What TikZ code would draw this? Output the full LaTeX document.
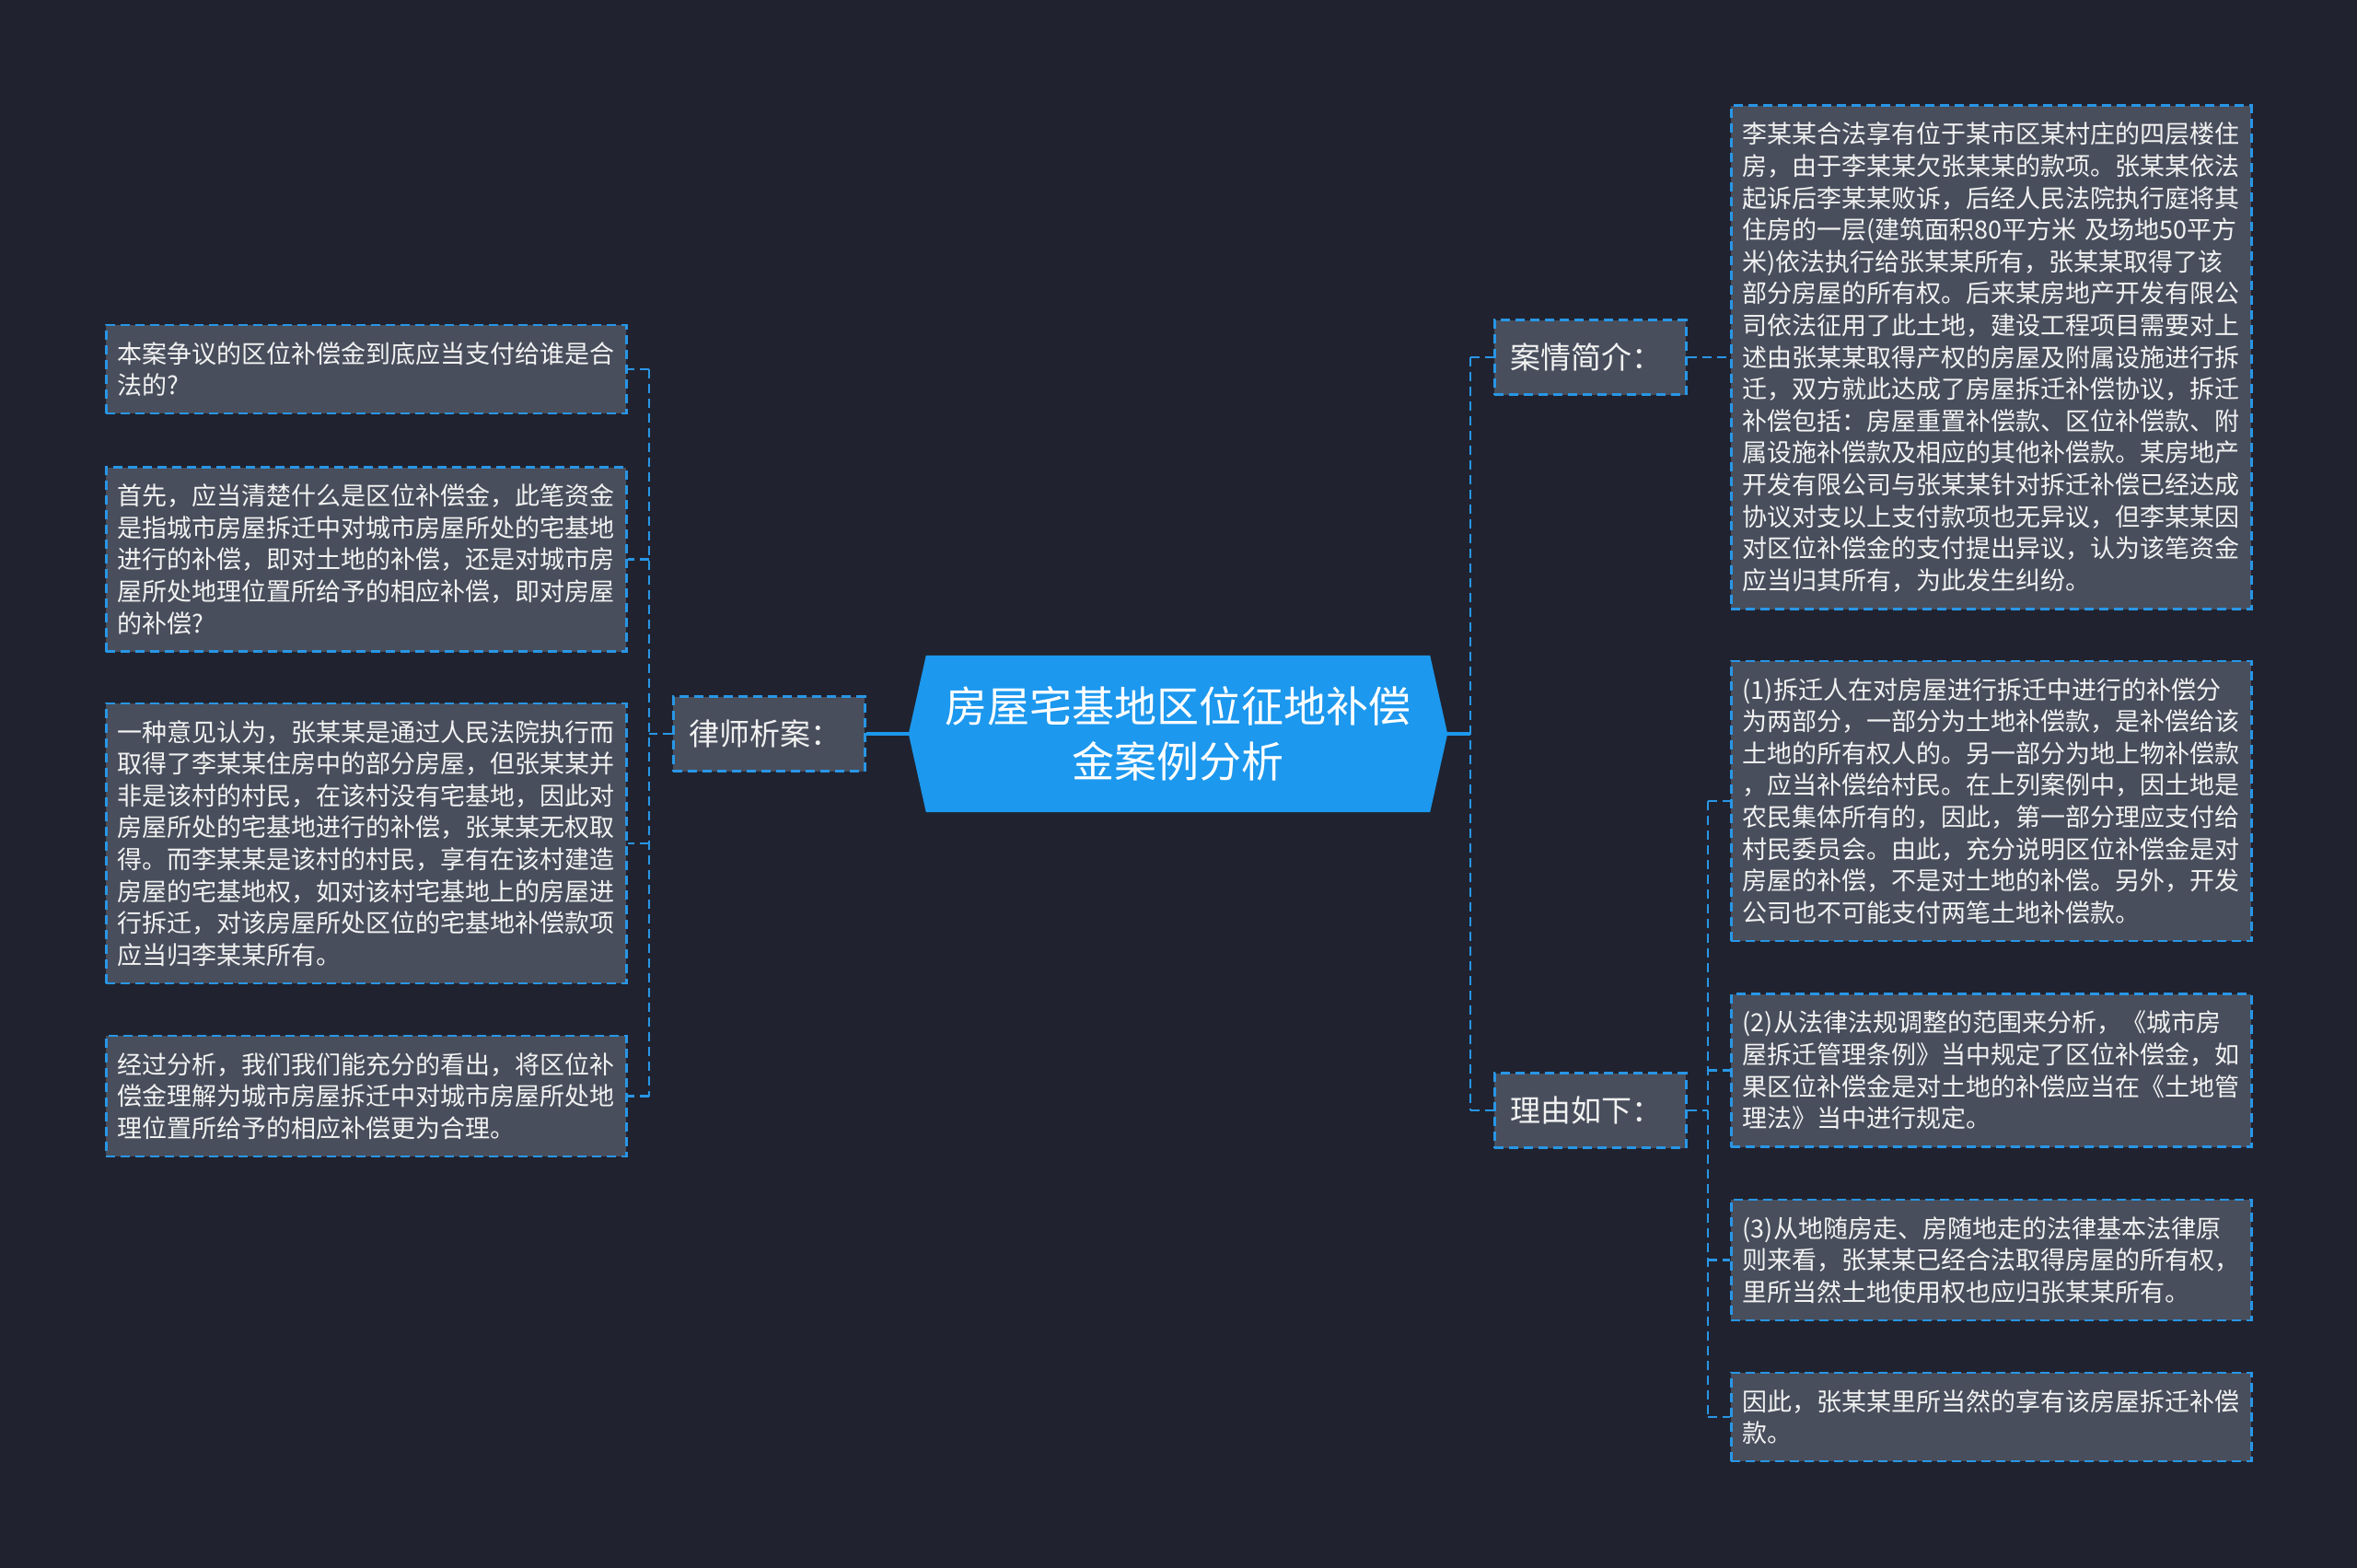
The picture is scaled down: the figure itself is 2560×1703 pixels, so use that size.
\documentclass[tikz,border=0pt]{standalone}
\usepackage{fontspec}
\setmainfont{Noto Sans CJK SC}
\usetikzlibrary{backgrounds}
\definecolor{bgc}{HTML}{20232F}
\definecolor{boxfill}{HTML}{484E5C}
\definecolor{lineblue}{HTML}{2896E6}
\definecolor{rootblue}{HTML}{1C98EE}
\definecolor{txtc}{HTML}{F2F2F2}
\tikzset{
  leaf/.style={draw=lineblue, fill=boxfill, line width=2.5pt, dash pattern=on 10pt off 6pt,
    text=txtc, font=\fontsize{27}{34.6}\selectfont, text width=540pt, inner xsep=12.5pt,
    inner ysep=0pt, align=left, anchor=west},
  cat/.style={draw=lineblue, fill=boxfill, line width=2.5pt, dash pattern=on 10pt off 6pt,
    text=txtc, font=\fontsize{33}{40}\selectfont, text width=174pt, inner xsep=17pt,
    inner ysep=0pt, minimum height=81pt, align=left, anchor=west},
  rootnode/.style={text=white, font=\fontsize{46}{60}\selectfont, text width=540pt,
    inner xsep=22.5pt, inner ysep=0pt, minimum height=170pt, align=center},
  link/.style={draw=lineblue, line width=2.6pt, dash pattern=on 10pt off 6pt},
  trunk/.style={draw=rootblue, line width=3.2pt},
}
\begin{document}
\begin{tikzpicture}[x=1pt,y=-1pt]
\begin{scope}[on background layer]
  \fill[bgc] (0,0) rectangle (2560,1703);
\end{scope}
\useasboundingbox (0,0) rectangle (2560,1703);

% root
\node[rootnode] (root) at (1279.5,797) {房屋宅基地区位征地补偿\\金案例分析};
\begin{scope}[on background layer]
  \fill[rootblue] (root.west) -- ([xshift=19pt]root.north west) -- ([xshift=-19pt]root.north east)
    -- (root.east) -- ([xshift=-19pt]root.south east) -- ([xshift=19pt]root.south west) -- cycle;
\end{scope}

% left branch
\node[cat] (lawyer) at (730,797) {律师析案：};
\node[leaf, minimum height=96pt] (L1) at (114,401) {本案争议的区位补偿金到底应当支付给谁是合\\法的?};
\node[leaf, minimum height=200pt] (L2) at (114,607.5) {首先，应当清楚什么是区位补偿金，此笔资金\\是指城市房屋拆迁中对城市房屋所处的宅基地\\进行的补偿，即对土地的补偿，还是对城市房\\屋所处地理位置所给予的相应补偿，即对房屋\\的补偿?};
\node[leaf, minimum height=304pt] (L3) at (114,916) {一种意见认为，张某某是通过人民法院执行而\\取得了李某某住房中的部分房屋，但张某某并\\非是该村的村民，在该村没有宅基地，因此对\\房屋所处的宅基地进行的补偿，张某某无权取\\得。而李某某是该村的村民，享有在该村建造\\房屋的宅基地权，如对该村宅基地上的房屋进\\行拆迁，对该房屋所处区位的宅基地补偿款项\\应当归李某某所有。};
\node[leaf, minimum height=131pt] (L4) at (114,1190.5) {经过分析，我们我们能充分的看出，将区位补\\偿金理解为城市房屋拆迁中对城市房屋所处地\\理位置所给予的相应补偿更为合理。};

% right branch
\node[cat] (case) at (1622,388) {案情简介：};
\node[cat] (reason) at (1622,1206) {理由如下：};
\node[leaf, minimum height=547pt] (R1) at (1879,388) {李某某合法享有位于某市区某村庄的四层楼住\\房，由于李某某欠张某某的款项。张某某依法\\起诉后李某某败诉，后经人民法院执行庭将其\\住房的一层(建筑面积80平方米 及场地50平方\\米)依法执行给张某某所有，张某某取得了该\\部分房屋的所有权。后来某房地产开发有限公\\司依法征用了此土地，建设工程项目需要对上\\述由张某某取得产权的房屋及附属设施进行拆\\迁，双方就此达成了房屋拆迁补偿协议，拆迁\\补偿包括：房屋重置补偿款、区位补偿款、附\\属设施补偿款及相应的其他补偿款。某房地产\\开发有限公司与张某某针对拆迁补偿已经达成\\协议对支以上支付款项也无异议，但李某某因\\对区位补偿金的支付提出异议，认为该笔资金\\应当归其所有，为此发生纠纷。};
\node[leaf, minimum height=304pt] (R2) at (1879,870) {(1)拆迁人在对房屋进行拆迁中进行的补偿分\\为两部分，一部分为土地补偿款，是补偿给该\\土地的所有权人的。另一部分为地上物补偿款\\，应当补偿给村民。在上列案例中，因土地是\\农民集体所有的，因此，第一部分理应支付给\\村民委员会。由此，充分说明区位补偿金是对\\房屋的补偿，不是对土地的补偿。另外，开发\\公司也不可能支付两笔土地补偿款。};
\node[leaf, minimum height=166pt] (R3) at (1879,1162.5) {(2)从法律法规调整的范围来分析，《城市房\\屋拆迁管理条例》当中规定了区位补偿金，如\\果区位补偿金是对土地的补偿应当在《土地管\\理法》当中进行规定。};
\node[leaf, minimum height=131pt] (R4) at (1879,1368.5) {(3)从地随房走、房随地走的法律基本法律原\\则来看，张某某已经合法取得房屋的所有权，\\里所当然土地使用权也应归张某某所有。};
\node[leaf, minimum height=96pt] (R5) at (1879,1539) {因此，张某某里所当然的享有该房屋拆迁补偿\\款。};

% joints
\coordinate (lj) at (705,797);
\coordinate (rj) at (1597,797);
\coordinate (rj2) at (1855,1206);

% connectors
\draw[trunk] (root.west) -- (lawyer.east);
\draw[trunk] (root.east) -- (rj);
\draw[link] (lawyer.west) -- (lj);
\draw[link] (lj|-L1.east) -- (lj|-L4.east);
\foreach \n in {L1,L2,L3,L4} { \draw[link] (lj|-\n.east) -- (\n.east); }
\draw[link] (rj|-case.west) -- (rj|-reason.west);
\draw[link] (rj|-case.west) -- (case.west);
\draw[link] (rj|-reason.west) -- (reason.west);
\draw[link] (case.east) -- (R1.west);
\draw[link] (reason.east) -- (rj2);
\draw[link] (rj2|-R2.west) -- (rj2|-R5.west);
\foreach \n in {R2,R3,R4,R5} { \draw[link] (rj2|-\n.west) -- (\n.west); }
\end{tikzpicture}
\end{document}
